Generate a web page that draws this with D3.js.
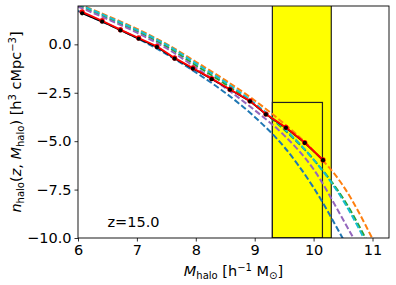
<!DOCTYPE html>
<html>
<head>
<meta charset="utf-8">
<script src="https://cdn.jsdelivr.net/npm/d3@7"></script>
<style>
  body { margin: 0; background: #fff; }
  text { font-family: "DejaVu Sans", sans-serif; fill: #000; }
</style>
</head>
<body>
<div id="chart"></div>
<script>
// halo mass function at z=15 (log10 values)
const massGrid = [6, 6.5, 7, 7.5, 8, 8.5, 9, 9.5, 10, 10.5, 11, 11.3];
const modelBlue   = [1.72, 1.05, 0.33, -0.5, -1.45, -2.5, -3.75, -5.3, -7.4, -10.05, null, null];
const modelPurple = [1.95, 1.3, 0.6, -0.2, -1.2, -2.25, -3.4, -4.7, -6.45, -9.05, -11.8, null];
const modelGreen  = [2.02, 1.37, 0.68, -0.1, -1.08, -2.05, -3.12, -4.4, -5.95, -7.95, -10.7, null];
const modelCyan   = [2.08, 1.43, 0.75, -0.02, -0.98, -1.95, -3.05, -4.35, -5.95, -8.05, -10.9, null];
const modelOrange = [2.1, 1.47, 0.8, 0.02, -0.9, -1.85, -2.9, -4.1, -5.5, -7.3, -10.05, -12];

const simMass  = [6.07, 6.41, 6.72, 7.03, 7.34, 7.64, 7.95, 8.27, 8.58, 8.92, 9.19, 9.53, 9.85, 10.16];
const simBlack = [1.60, 1.17, 0.72, 0.29, -0.14, -0.74, -1.25, -1.80, -2.34, -2.94, -3.62, -4.31, -5.09, -5.98];
const simRed   = [1.68, 1.22, 0.76, 0.33, -0.10, -0.70, -1.22, -1.77, -2.32, -2.92, -3.60, -4.29, -5.07, -5.97];

const xTicks = [6, 7, 8, 9, 10, 11];
const yTicks = [-10, -7.5, -5, -2.5, 0];

// shaded mass windows
const outerBox = {x0: 9.3, x1: 10.3, y0: -10, y1: 2.5};
const innerBox = {x0: 9.3, x1: 10.15, y0: -10, y1: -3.0};

const WIDTH = 396, HEIGHT = 285;
const margin = {left: 78, right: 7, top: 6, bottom: 47};
const FS = '14.5px', SUB = '10px';

const svg = d3.select('#chart').append('svg')
  .attr('width', WIDTH)
  .attr('height', HEIGHT);

const x = d3.scaleLinear().domain([6, 11.28]).range([margin.left, WIDTH - margin.right]);
const y = d3.scaleLinear().domain([-10, 1.98]).range([HEIGHT - margin.bottom, margin.top]);

svg.append('clipPath').attr('id', 'plotclip')
  .append('rect')
  .attr('x', x.range()[0]).attr('y', y.range()[1])
  .attr('width', x.range()[1] - x.range()[0])
  .attr('height', y.range()[0] - y.range()[1]);

const g = svg.append('g').attr('clip-path', 'url(#plotclip)');

// yellow window + inner box
g.append('rect')
  .attr('x', x(outerBox.x0)).attr('y', y(outerBox.y1))
  .attr('width', x(outerBox.x1) - x(outerBox.x0))
  .attr('height', y(outerBox.y0) - y(outerBox.y1))
  .style('fill', '#ffff00').style('stroke', '#222').style('stroke-width', 1.2);
g.append('rect')
  .attr('x', x(innerBox.x0)).attr('y', y(innerBox.y1))
  .attr('width', x(innerBox.x1) - x(innerBox.x0))
  .attr('height', y(innerBox.y0) - y(innerBox.y1))
  .style('fill', 'none').style('stroke', '#222').style('stroke-width', 1.2);

// dashed model curves
const models = [
  {vals: modelBlue, color: '#1f77b4'},
  {vals: modelOrange, color: '#ff7f0e'},
  {vals: modelGreen, color: '#2ca02c'},
  {vals: modelPurple, color: '#9467bd'},
  {vals: modelCyan, color: '#17becf'}
];
const curve = d3.line()
  .defined(d => d[1] !== null)
  .x(d => x(d[0])).y(d => y(d[1]))
  .curve(d3.curveMonotoneX);

models.forEach(m => {
  g.append('path')
    .attr('d', curve(massGrid.map((v, i) => [v, m.vals[i]])))
    .style('fill', 'none')
    .style('stroke', m.color)
    .style('stroke-width', 2)
    .style('stroke-dasharray', '6,2.6');
});

// simulation points
const simLine = d3.line().x(d => x(d[0])).y(d => y(d[1]));
const blackPts = simMass.map((v, i) => [v, simBlack[i]]);
const redPts = simMass.map((v, i) => [v, simRed[i]]);

g.append('path').attr('d', simLine(blackPts))
  .style('fill', 'none').style('stroke', '#000').style('stroke-width', 1.5);
g.append('path').attr('d', simLine(redPts))
  .style('fill', 'none').style('stroke', '#ff0000').style('stroke-width', 1.8);
g.selectAll('.redpt').data(redPts).enter().append('circle')
  .attr('class', 'redpt')
  .attr('cx', d => x(d[0])).attr('cy', d => y(d[1]))
  .attr('r', 2.6).style('fill', '#ff0000');
g.selectAll('.blackpt').data(blackPts).enter().append('circle')
  .attr('class', 'blackpt')
  .attr('cx', d => x(d[0])).attr('cy', d => y(d[1]))
  .attr('r', 2.1).style('fill', '#000');

// axes
const xAxis = svg.append('g')
  .attr('transform', 'translate(0,' + y.range()[0] + ')')
  .call(d3.axisBottom(x).tickValues(xTicks).tickFormat(d3.format('d')).tickSizeOuter(0).tickSize(3.5).tickPadding(3));
const yAxis = svg.append('g')
  .attr('transform', 'translate(' + x.range()[0] + ',0)')
  .call(d3.axisLeft(y).tickValues(yTicks).tickFormat(d => d3.format('.1f')(d).replace('-', '\u2212')).tickSizeOuter(0).tickSize(3.5).tickPadding(3));
[xAxis, yAxis].forEach(a => {
  a.select('.domain').remove();
  a.selectAll('line').style('stroke', '#000').style('stroke-width', 0.8);
  a.selectAll('text').style('font-family', '"DejaVu Sans", sans-serif').style('font-size', FS).style('fill', '#000');
});

// frame
svg.append('rect')
  .attr('x', x.range()[0]).attr('y', y.range()[1])
  .attr('width', x.range()[1] - x.range()[0])
  .attr('height', y.range()[0] - y.range()[1])
  .style('fill', 'none').style('stroke', '#000').style('stroke-width', 0.9);

// redshift label
svg.append('text')
  .attr('x', x(6.5)).attr('y', y(-9.45))
  .style('font-size', FS)
  .text('z=15.0');

// x label
const xl = svg.append('text')
  .attr('x', (x.range()[0] + x.range()[1]) / 2).attr('y', 276)
  .attr('text-anchor', 'middle')
  .style('font-size', FS);
xl.append('tspan').style('font-style', 'italic').text('M');
xl.append('tspan').attr('dy', 3).style('font-size', SUB).text('halo');
xl.append('tspan').attr('dy', -3).text(' [h');
xl.append('tspan').attr('dy', -5.5).style('font-size', SUB).text('\u22121');
xl.append('tspan').attr('dy', 5.5).text(' M');
xl.append('tspan').attr('dy', 3).style('font-size', SUB).text('\u2299');
xl.append('tspan').attr('dy', -3).text(']');

// y label
const yl = svg.append('text')
  .attr('transform', 'translate(21,' + ((y.range()[0] + y.range()[1]) / 2) + ') rotate(-90)')
  .attr('text-anchor', 'middle')
  .style('font-size', FS);
yl.append('tspan').style('font-style', 'italic').text('n');
yl.append('tspan').attr('dy', 3).style('font-size', SUB).text('halo');
yl.append('tspan').attr('dy', -3).text('(');
yl.append('tspan').style('font-style', 'italic').text('z');
yl.append('tspan').text(', ');
yl.append('tspan').style('font-style', 'italic').text('M');
yl.append('tspan').attr('dy', 3).style('font-size', SUB).text('halo');
yl.append('tspan').attr('dy', -3).text(') [h');
yl.append('tspan').attr('dy', -5.5).style('font-size', SUB).text('3');
yl.append('tspan').attr('dy', 5.5).text(' cMpc');
yl.append('tspan').attr('dy', -5.5).style('font-size', SUB).text('\u22123');
yl.append('tspan').attr('dy', 5.5).text(']');
</script>
</body>
</html>
